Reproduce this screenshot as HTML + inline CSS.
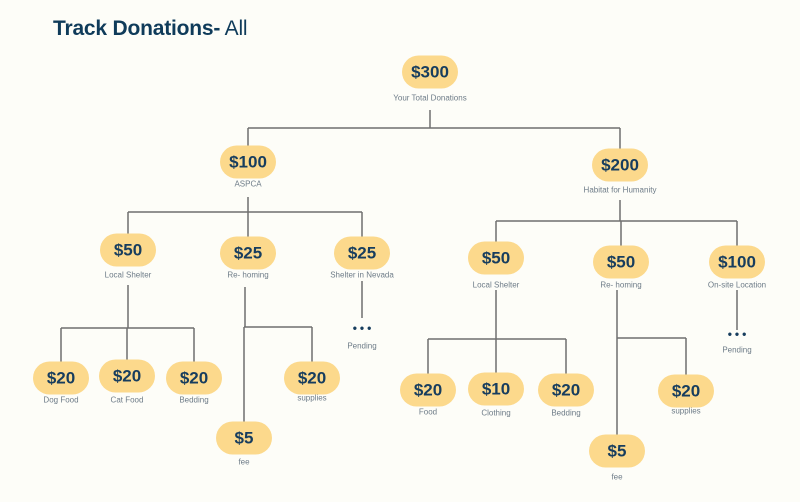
<!DOCTYPE html>
<html><head><meta charset="utf-8"><style>
body{margin:0;background:#fdfdf8;width:800px;height:502px;overflow:hidden;font-family:"Liberation Sans",sans-serif;position:relative}
#title{position:absolute;left:53px;top:17px;font-size:21px;color:#0f3b5a;white-space:nowrap;letter-spacing:-0.2px}
#title b{font-weight:700}
.pill{position:absolute;width:56px;height:33px;border-radius:17px;background:#fcd98c;color:#173d5e;font-weight:700;font-size:17px;text-align:center;line-height:33px;transform:translate(-50%,-50%)}
.lbl{position:absolute;font-size:8px;color:#6e7c88;transform:translate(-50%,-50%);white-space:nowrap}
.dots{position:absolute;font-size:12px;font-weight:700;color:#173d5e;transform:translate(-50%,-50%);letter-spacing:3px;padding-left:3px}
svg{position:absolute;left:0;top:0}
</style></head><body>
<div id="title"><b>Track Donations-</b> All</div>
<svg id="lines" width="800" height="502"></svg>
<div id="nodes"></div>
<script>
const nodeAmounts=["$300","$100","$200","$50","$25","$25","$50","$50","$100","$20","$20","$20","$20","$5","$20","$10","$20","$20","$5"];
const nodeLabels=["Your Total Donations","ASPCA","Habitat for Humanity","Local Shelter","Re- homing","Shelter in Nevada","Local Shelter","Re- homing","On-site Location","Dog Food","Cat Food","Bedding","supplies","fee","Food","Clothing","Bedding","supplies","fee"];
const nodeX=[430,248,620,128,248,362,496,621,737,61,127,194,312,244,428,496,566,686,617];
const nodeY=[72,162,165,250,253,253,258,262,262,378,376,378,378,438,390,389,390,391,451];
const labelDY=[26,22,25,25,22,22,27,23,23,22,24,22,20,24,22,24,23,20,26];
// connectors: [parent, child list, barY, stemTop, stemX]
const groups=[[0,[1,2],128,110,430],[1,[3,4,5],212,197,248],[2,[6,7,8],221,200,620],[3,[9,10,11],328,285,128],[4,[13,12],327,287,245],[6,[14,15,16],339,290,496],[7,[18,17],338,290,617]];
const pendingParents=[5,8];
const pendingY=[[318,330,346],[330,336,350]];
const svg=document.getElementById('lines');
const ns='http://www.w3.org/2000/svg';
function ln(x1,y1,x2,y2){const l=document.createElementNS(ns,'line');
l.setAttribute('x1',x1);l.setAttribute('y1',y1);l.setAttribute('x2',x2);l.setAttribute('y2',y2);
l.setAttribute('stroke','#6f6f6f');l.setAttribute('stroke-width','1.5');


svg.appendChild(l);}
groups.forEach(g=>{const kids=g[1],by=g[2],top=g[3],sx=g[4];
const xs=kids.map(k=>nodeX[k]).concat([sx]);
ln(sx,top,sx,by);
ln(Math.min(...xs),by,Math.max(...xs),by);
kids.forEach(k=>ln(nodeX[k],by,nodeX[k],nodeY[k]-16));});
const box=document.getElementById('nodes');
nodeAmounts.forEach((a,i)=>{const d=document.createElement('div');d.className='pill';
d.style.left=nodeX[i]+'px';d.style.top=nodeY[i]+'px';d.textContent=a;


box.appendChild(d);
const t=document.createElement('div');t.className='lbl';t.style.left=nodeX[i]+'px';t.style.top=(nodeY[i]+labelDY[i])+'px';t.textContent=nodeLabels[i];


box.appendChild(t);});
pendingParents.forEach((p,j)=>{const y=pendingY[j];ln(nodeX[p],nodeY[p]+28,nodeX[p],y[0]);
const d=document.createElement('div');d.className='dots';d.style.left=nodeX[p]+'px';d.style.top=(y[1]-2)+'px';d.textContent='•••';


box.appendChild(d);
const t=document.createElement('div');t.className='lbl';t.style.left=nodeX[p]+'px';t.style.top=y[2]+'px';t.textContent='Pending';


box.appendChild(t);});
</script>
</body></html>
